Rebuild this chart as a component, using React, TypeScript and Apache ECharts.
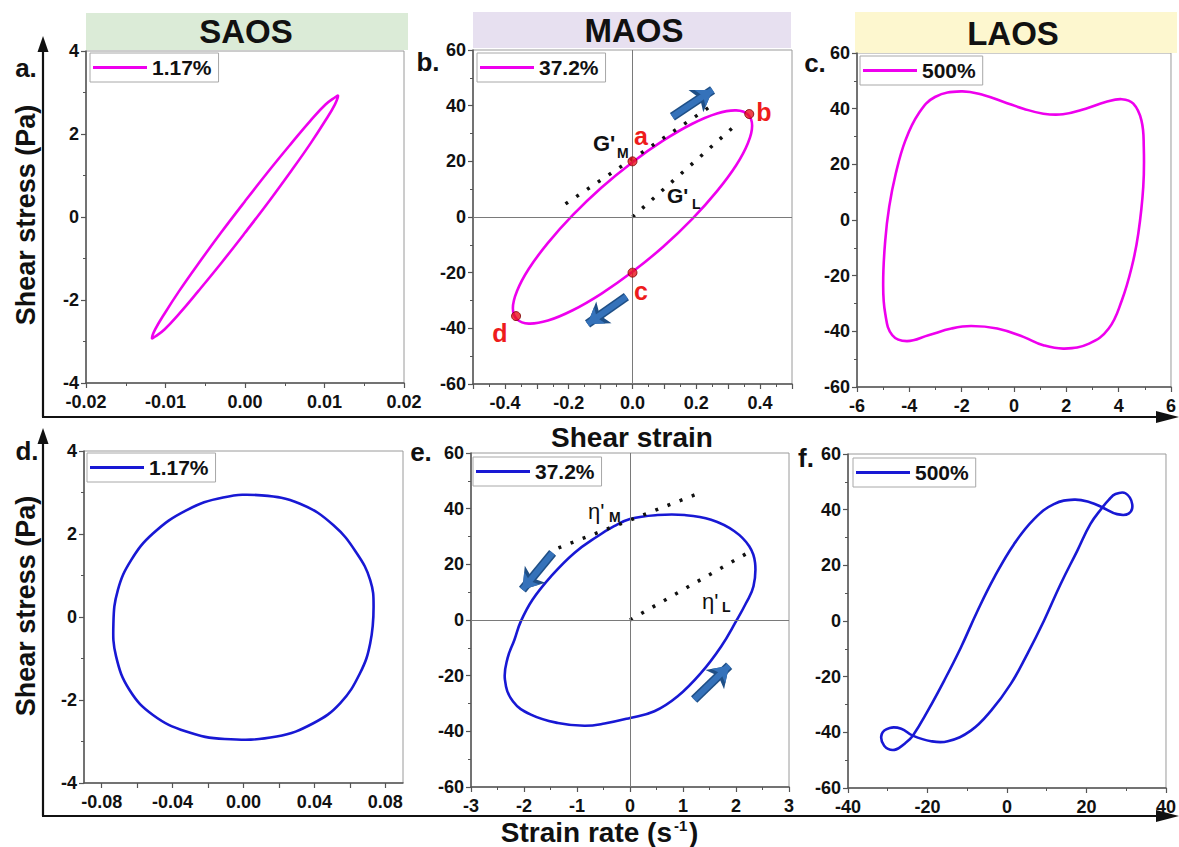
import React, { useEffect, useRef } from 'react';
import * as echarts from 'echarts';

const FONT = '"Liberation Sans", Arial, Helvetica, sans-serif';
const MAGENTA = '#ee00ee';
const BLUE = '#1818d4';
const ARROW = '#3572ba';
const ARROW_EDGE = '#1f4f86';

// ---- data: Lissajous loops ----
const saosStrainLoop: number[][] = [
  [0, 0.38], [0.00303, 1.12], [0.00585, 1.78], [0.00827, 2.33], [0.01013, 2.71], [0.0113, 2.88],
  [0.0117, 2.92], [0.0113, 2.71], [0.01013, 2.33], [0.00827, 1.78], [0.00585, 1.12], [0.00303, 0.38],
  [0, -0.38], [-0.00303, -1.12], [-0.00585, -1.78], [-0.00827, -2.33], [-0.01013, -2.71], [-0.0113, -2.88],
  [-0.0117, -2.92], [-0.0113, -2.71], [-0.01013, -2.33], [-0.00827, -1.78], [-0.00585, -1.12], [-0.00303, -0.38],
];
const maosStrainLoop: number[][] = [
  [0, 19.7], [0.097, 27.5], [0.1875, 33.5], [0.265, 37.2], [0.325, 38.3], [0.362, 36.8],
  [0.375, 32.8], [0.362, 26.6], [0.325, 18.6], [0.265, 9.3], [0.1875, -0.67], [0.097, -10.6],
  [0, -19.7], [-0.097, -27.5], [-0.1875, -33.5], [-0.265, -37.2], [-0.325, -38.3], [-0.362, -36.8],
  [-0.375, -32.8], [-0.362, -26.6], [-0.325, -18.6], [-0.265, -9.3], [-0.1875, 0.67], [-0.097, 10.6],
];
const laosStrainLoop: number[][] = [
  [-2.02, 46.2], [-1.14, 44.8], [-0.39, 42.4], [0.36, 40.0], [1.12, 38.2], [1.87, 38.0], [2.74, 40.0],
  [3.5, 42.4], [4.12, 43.4], [4.56, 41.8], [4.87, 35.8], [4.96, 26.2], [4.94, 11.9], [4.75, -4.9],
  [4.5, -16.9], [4.12, -28.9], [3.62, -39.0], [2.87, -44.4], [1.93, -46.2], [1.12, -45.0], [0.36, -42.0],
  [-0.64, -39.0], [-1.64, -38.1], [-2.39, -39.0], [-3.27, -41.4], [-4.09, -43.5], [-4.65, -41.4],
  [-4.92, -33.7], [-5.0, -22.9], [-4.92, -7.3], [-4.77, 4.7], [-4.52, 16.6], [-4.15, 28.6],
  [-3.65, 38.2], [-3.02, 44.2],
];
const saosRateLoop: number[][] = [
  [0.0102, 2.93], [0.0319, 2.73], [0.0508, 2.21], [0.064, 1.53], [0.0715, 0.89], [0.0734, 0.25],
  [0.0715, -0.63], [0.0658, -1.35], [0.0545, -2.08], [0.0394, -2.56], [0.0187, -2.88], [-0.0106, -2.94],
  [-0.0323, -2.76], [-0.0511, -2.36], [-0.0643, -1.76], [-0.0719, -0.95], [-0.0734, -0.15], [-0.0709, 0.65],
  [-0.0634, 1.37], [-0.0511, 2.01], [-0.0323, 2.57], [-0.0115, 2.88],
];
const maosRateLoop: number[][] = [
  [0, 36.3], [0.52, 37.7], [1.03, 37.7], [1.53, 36.0], [1.97, 31.9], [2.25, 26.5], [2.36, 20.5],
  [2.33, 12.1], [2.19, 6.1], [2.0, -0.5], [1.72, -9.5], [1.34, -19.0], [0.9, -27.4], [0.46, -32.8],
  [0, -35.2], [-0.48, -37.2], [-0.86, -38.0], [-1.36, -37.0], [-1.87, -34.0], [-2.21, -29.2],
  [-2.36, -21.4], [-2.31, -13.7], [-2.18, -7.1], [-2.06, -0.5], [-1.84, 7.3], [-1.49, 15.7],
  [-1.05, 24.1], [-0.61, 30.1], [-0.3, 33.7],
];
const laosRateLoop: number[][] = [
  [-23.7, -41.2], [-19.9, -32.2], [-15.8, -21.4], [-11.6, -9.5], [-7.4, 3.7], [-3.2, 15.7], [1.8, 27.7],
  [6.8, 36.6], [11.8, 42.0], [16.9, 43.6], [21.0, 42.6], [24.0, 40.8], [27.7, 38.4], [30.6, 38.6],
  [31.5, 42.0], [29.8, 45.9], [27.3, 45.6], [25.6, 43.5], [24.0, 40.8], [21.0, 34.9], [17.7, 25.3],
  [13.5, 13.3], [9.3, 0.1], [5.1, -11.9], [0.96, -22.6], [-4.0, -32.2], [-9.1, -39.4], [-14.9, -43.2],
  [-19.1, -43.2], [-23.7, -41.2], [-26.6, -38.7], [-29.5, -38.4], [-31.5, -40.6], [-30.9, -44.8],
  [-28.3, -46.3], [-25.6, -43.9],
];

// ---- annotations ----
const maosStrainPoints: number[][] = [[0, 20], [0.366, 37], [0, -20], [-0.365, -35.6]];
const gMTangent: number[][] = [[-0.21, 4.7], [0.24, 39.4]];
const gLSecant: number[][] = [[0, 0], [0.32, 32.7]];
const strainArrows: number[][][] = [[[0.125, 36], [0.251, 45.6]], [[-0.019, -28.6], [-0.141, -38.4]]];
const etaMTangent: number[][] = [[-1.35, 25.9], [1.31, 45.6]];
const etaLSecant: number[][] = [[0, 0], [2.22, 24.1]];
const rateArrows: number[][][] = [[[-1.46, 24.1], [-2.03, 10.9]], [[1.21, -28.6], [1.87, -16.4]]];

// ---- legend names ----
const legendLabels = ['1.17%', '37.2%', '500%', '1.17%', '37.2%', '500%'];
const panelKeys = ['a', 'b', 'c', 'd', 'e', 'f'];
const seriesNames = panelKeys.map((k, i) => k + '|' + legendLabels[i]);

const grids = [
  { left: 86, top: 51, width: 318, height: 332 },
  { left: 473, top: 50, width: 319, height: 334 },
  { left: 857, top: 53, width: 320, height: 334 },
  { left: 84, top: 451, width: 319, height: 332 },
  { left: 471, top: 453, width: 318, height: 334 },
  { left: 848, top: 454, width: 319, height: 334 },
];

const labelStyle = { color: '#111', fontSize: 18, fontWeight: 'bold', fontFamily: FONT };

function mkAxis(kind: 'x' | 'y', gridIndex: number, min: number, max: number, interval: number, fmt: (v: number) => string, custom?: { ticks: number[]; labels: number[] }) {
  const ax: any = {
    type: 'value', gridIndex, min, max, interval,
    axisLine: { show: true, onZero: false, lineStyle: { color: '#555', width: 1.5 } },
    axisTick: { show: true, length: 5, lineStyle: { color: '#555', width: 1.2 } },
    minorTick: { show: true, splitNumber: 2, length: 3, lineStyle: { color: '#555', width: 1 } },
    splitLine: { show: false },
    axisLabel: { ...labelStyle, formatter: fmt, margin: kind === 'x' ? 10 : 7, showMinLabel: true, showMaxLabel: true },
  };
  if (custom) {
    ax.axisTick.customValues = custom.ticks;
    ax.axisLabel.customValues = custom.labels;
    ax.minorTick.show = false;
  }
  return ax;
}

const f2 = (v: number) => v.toFixed(2);
const fInt = (v: number) => String(Math.round(v));
const fB = (v: number) => {
  const k = Math.round(v * 10);
  if (Math.abs(k) >= 5 || k % 2 !== 0) return '';
  return (k / 10).toFixed(1);
};

// closed smooth loop drawn from the data points through the axes' scales
function loop(name: string, idx: number, data: number[][], color: string, extra: any = {}) {
  return {
    name, type: 'custom', xAxisIndex: idx, yAxisIndex: idx, data, silent: true, z: 3,
    encode: { x: 0, y: 1 },
    itemStyle: { color },
    renderItem: (params: any, api: any) => {
      if (params.dataIndex !== 0) return null;
      const pts = data.map((p) => api.coord(p));
      return {
        type: 'polygon',
        shape: { points: pts, smooth: 0.42 },
        style: { fill: 'none', stroke: color, lineWidth: 2.6 },
      };
    },
    ...extra,
  };
}

const zeroLines = {
  silent: true, symbol: ['none', 'none'], label: { show: false }, animation: false,
  lineStyle: { color: '#7a7a7a', width: 1, type: 'solid' },
  data: [{ xAxis: 0 }, { yAxis: 0 }],
};

function dotted(idx: number, data: number[][]) {
  return {
    type: 'line', xAxisIndex: idx, yAxisIndex: idx, data, symbol: 'none', silent: true,
    lineStyle: { color: '#111', width: 3.5, type: [3, 10] }, z: 4,
  };
}

function arrows(idx: number, data: number[][][], color: string, width: number, head: number, z: number) {
  return {
    type: 'lines', coordinateSystem: 'cartesian2d', xAxisIndex: idx, yAxisIndex: idx, silent: true,
    data: data.map((c) => ({ coords: c })), symbol: ['none', 'arrow'], symbolSize: [0, head],
    lineStyle: { color, width, opacity: 1, curveness: 0 }, z,
  };
}

const legendBoxes = [
  { left: 90, top: 53 }, { left: 477, top: 53 }, { left: 860, top: 56 },
  { left: 87, top: 453 }, { left: 473, top: 457 }, { left: 853, top: 458 },
];
const legendColors = [MAGENTA, MAGENTA, MAGENTA, BLUE, BLUE, BLUE];

function txt(text: string, x: number, y: number, size: number, opts: any = {}) {
  return {
    type: 'text', x, y, rotation: opts.rotation || 0, z: 10,
    style: {
      text, fill: opts.fill || '#111', fontSize: size, fontWeight: opts.weight || 'bold', fontFamily: FONT,
      align: opts.align || 'center', verticalAlign: opts.valign || 'middle',
    },
  };
}

function arrowAxes(yTop: number, yBase: number) {
  return [
    { type: 'line', shape: { x1: 43, y1: yBase, x2: 43, y2: yTop + 12 }, style: { stroke: '#111', lineWidth: 2.2 } },
    { type: 'polygon', shape: { points: [[43, yTop], [37.5, yTop + 16], [48.5, yTop + 16]] }, style: { fill: '#111' } },
    { type: 'line', shape: { x1: 42, y1: yBase, x2: 1160, y2: yBase }, style: { stroke: '#111', lineWidth: 2.2 } },
    { type: 'polygon', shape: { points: [[1179, yBase], [1156, yBase - 6], [1156, yBase + 6]] }, style: { fill: '#111' } },
  ];
}

export default function App() {
  const ref = useRef<HTMLDivElement>(null);
  useEffect(() => {
    if (!ref.current) return;
    const chart = echarts.init(ref.current, undefined, { renderer: 'svg' });
    const option: any = {
      animation: false,
      backgroundColor: '#fff',
      grid: grids.map((g) => ({ ...g, show: true, borderColor: '#9a9a9a', borderWidth: 1, containLabel: false })),
      xAxis: [
        mkAxis('x', 0, -0.02, 0.02, 0.01, f2),
        mkAxis('x', 1, -0.5, 0.5, 0.1, fB),
        mkAxis('x', 2, -6, 6, 2, fInt),
        mkAxis('x', 3, -0.09, 0.09, 0.01, f2, {
          ticks: [-0.08, -0.06, -0.04, -0.02, 0, 0.02, 0.04, 0.06, 0.08],
          labels: [-0.08, -0.04, 0, 0.04, 0.08],
        }),
        mkAxis('x', 4, -3, 3, 1, fInt),
        mkAxis('x', 5, -40, 40, 20, fInt),
      ],
      yAxis: [
        mkAxis('y', 0, -4, 4, 2, fInt),
        mkAxis('y', 1, -60, 60, 20, fInt),
        mkAxis('y', 2, -60, 60, 20, fInt),
        mkAxis('y', 3, -4, 4, 2, fInt),
        mkAxis('y', 4, -60, 60, 20, fInt),
        mkAxis('y', 5, -60, 60, 20, fInt),
      ],
      legend: seriesNames.map((n, i) => ({
        data: [{ name: n, icon: 'rect', itemStyle: { color: legendColors[i] } }],
        left: legendBoxes[i].left, top: legendBoxes[i].top,
        padding: [4, 7, 4, 3], itemWidth: 54, itemHeight: 3,
        borderColor: '#a8a8a8', borderWidth: 1, backgroundColor: '#fff', selectedMode: false,
        formatter: (name: string) => name.split('|')[1],
        textStyle: { fontSize: 21, fontWeight: 'bold', color: '#111', fontFamily: FONT, padding: [2, 0, 0, 0] },
      })),
      series: [
        loop(seriesNames[0], 0, saosStrainLoop, MAGENTA),
        loop(seriesNames[1], 1, maosStrainLoop, MAGENTA),
        { type: 'line', xAxisIndex: 1, yAxisIndex: 1, data: [], markLine: zeroLines, silent: true },
        dotted(1, gMTangent),
        dotted(1, gLSecant),
        arrows(1, strainArrows, ARROW_EDGE, 9, 20, 5),
        arrows(1, strainArrows, ARROW, 6, 15, 6),
        {
          type: 'scatter', xAxisIndex: 1, yAxisIndex: 1, data: maosStrainPoints, symbolSize: 9, z: 7, silent: true,
          itemStyle: { color: '#e8141a', borderColor: '#7a0000', borderWidth: 1 },
        },
        loop(seriesNames[2], 2, laosStrainLoop, MAGENTA),
        loop(seriesNames[3], 3, saosRateLoop, BLUE),
        loop(seriesNames[4], 4, maosRateLoop, BLUE),
        { type: 'line', xAxisIndex: 4, yAxisIndex: 4, data: [], markLine: zeroLines, silent: true },
        dotted(4, etaMTangent),
        dotted(4, etaLSecant),
        arrows(4, rateArrows, ARROW_EDGE, 9, 20, 5),
        arrows(4, rateArrows, ARROW, 6, 15, 6),
        loop(seriesNames[5], 5, laosRateLoop, BLUE),
      ],
      graphic: [
        { type: 'rect', shape: { x: 86, y: 13, width: 322, height: 37 }, style: { fill: '#dbebd7' }, z: 0 },
        { type: 'rect', shape: { x: 473, y: 12, width: 318, height: 36 }, style: { fill: '#e7e0f0' }, z: 0 },
        { type: 'rect', shape: { x: 855, y: 12, width: 322, height: 41 }, style: { fill: '#fdf7cf' }, z: 0 },
        txt('SAOS', 246, 31, 33),
        txt('MAOS', 634, 30, 33),
        txt('LAOS', 1013, 33, 33),
        ...arrowAxes(36, 417),
        ...arrowAxes(428, 816),
        txt('Shear stress (Pa)', 26, 215, 27, { rotation: Math.PI / 2 }),
        txt('Shear stress (Pa)', 26, 606, 27, { rotation: Math.PI / 2 }),
        txt('Shear strain', 632, 437, 28),
        txt('Strain rate (s', 672, 832, 28, { align: 'right' }),
        txt('-1', 674, 825, 15, { align: 'left' }),
        txt(')', 689, 832, 28, { align: 'left' }),
        txt('a.', 26, 68, 26),
        txt('b.', 428, 62, 26),
        txt('c.', 815, 63, 26),
        txt('d.', 27, 451, 26),
        txt('e.', 421, 452, 26),
        txt('f.', 806, 458, 26),
        txt('a', 641, 136, 25, { fill: '#ee1c1c' }),
        txt('b', 764, 112, 25, { fill: '#ee1c1c' }),
        txt('c', 641, 291, 25, { fill: '#ee1c1c' }),
        txt('d', 500, 333, 25, { fill: '#ee1c1c' }),
        txt("G'", 593, 143, 22, { align: 'left' }),
        txt('M', 617, 153, 14, { align: 'left' }),
        txt("G'", 667, 195, 21, { align: 'left' }),
        txt('L', 692, 204, 14, { align: 'left' }),
        txt("η'", 588, 511, 22, { align: 'left', weight: 'normal' }),
        txt('M', 609, 517, 14, { align: 'left' }),
        txt("η'", 702, 601, 22, { align: 'left', weight: 'normal' }),
        txt('L', 722, 607, 14, { align: 'left' }),
      ],
    };
    chart.setOption(option);
    return () => chart.dispose();
  }, []);
  return <div ref={ref} style={{ position: 'fixed', left: 0, top: 0, width: 1179, height: 847, background: '#fff' }} />;
}
